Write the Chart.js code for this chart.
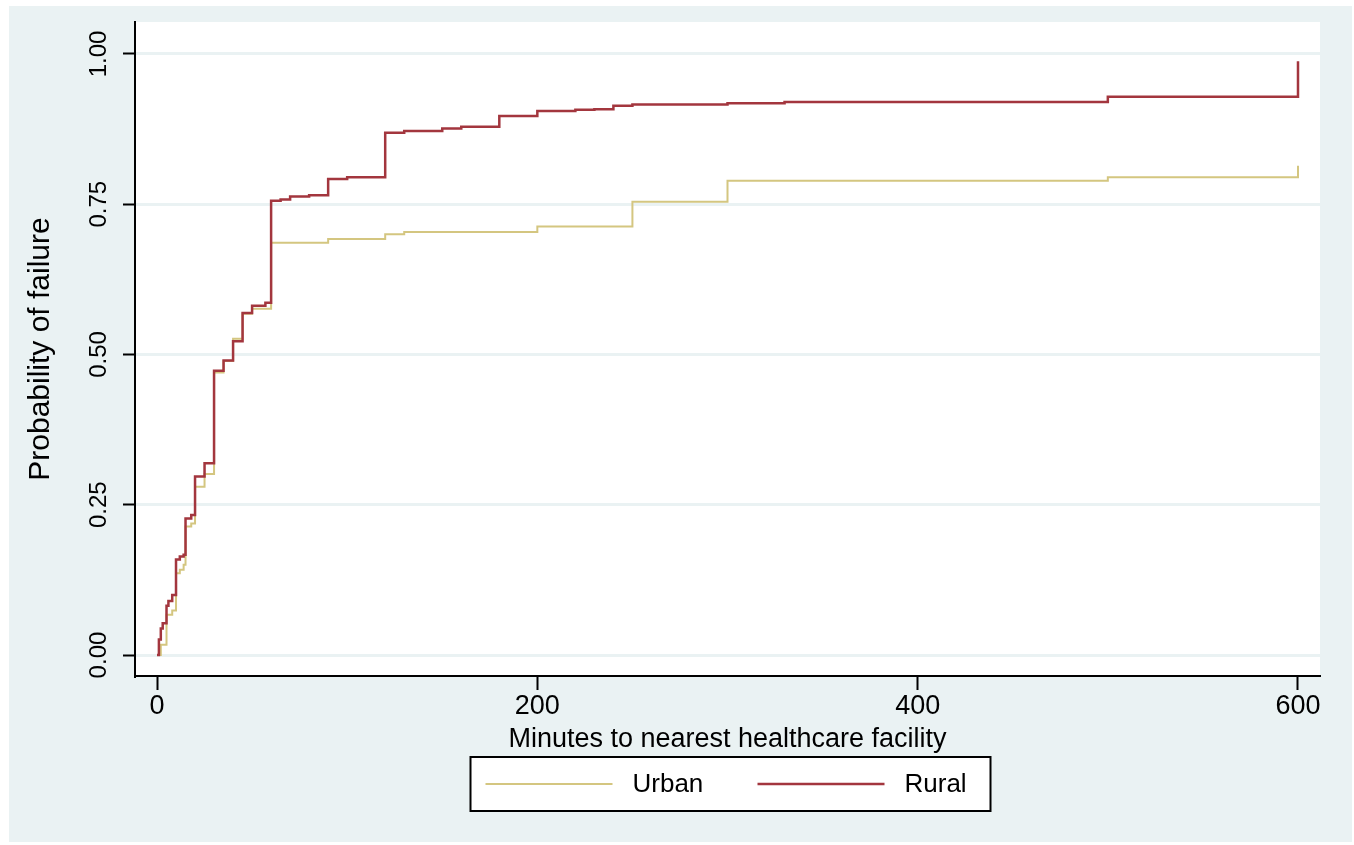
<!DOCTYPE html>
<html>
<head>
<meta charset="utf-8">
<script src="https://cdn.jsdelivr.net/npm/chart.js@4.4.0/dist/chart.umd.min.js"></script>
<style>
  html, body { margin: 0; padding: 0; background: #fff; }
  canvas { display: block; }
</style>
</head>
<body>
<canvas id="km" width="1354" height="845"></canvas>
<script>
// failure curves (minutes, cumulative probability)
const urbanMinutes = [0, 2, 5, 8, 10, 12, 14, 15, 18, 20, 25, 30, 35, 40, 45, 50, 60, 90, 120, 130, 200, 250, 300, 500, 600];
const urbanFailure = [0, 0.017, 0.067, 0.074, 0.136, 0.142, 0.150, 0.214, 0.219, 0.280, 0.301, 0.470, 0.489, 0.526, 0.568, 0.576, 0.686, 0.692, 0.700, 0.704, 0.713, 0.754, 0.789, 0.795, 0.814];

const ruralMinutes = [0, 1, 2, 3, 5, 6, 8, 10, 12, 14, 15, 18, 20, 25, 30, 35, 40, 45, 50, 57, 60, 65, 70, 80, 90, 100, 120, 130, 150, 160, 180, 200, 220, 230, 240, 250, 300, 330, 500, 600];
const ruralFailure = [0, 0.026, 0.044, 0.053, 0.082, 0.090, 0.100, 0.159, 0.164, 0.167, 0.227, 0.233, 0.297, 0.319, 0.473, 0.490, 0.522, 0.569, 0.581, 0.586, 0.756, 0.758, 0.763, 0.765, 0.792, 0.795, 0.869, 0.872, 0.876, 0.879, 0.897, 0.905, 0.907, 0.908, 0.914, 0.916, 0.918, 0.920, 0.929, 0.988];

const xTickValues = [0, 200, 400, 600];
const yTickValues = [0, 0.25, 0.5, 0.75, 1];

const sansFont = "'Liberation Sans', Arial, Helvetica, sans-serif";
const narrowFont = "'Liberation Sans Narrow', 'Arial Narrow', 'Liberation Sans', Arial, sans-serif";

function toPoints(xs, ys) {
  return xs.map((t, i) => ({ x: t, y: ys[i] }));
}

// grey frame, white plot region and the boxed legend at the bottom
const stataFrame = {
  id: 'stataFrame',
  beforeDraw(chart) {
    const c = chart.ctx, a = chart.chartArea;
    c.save();
    c.fillStyle = '#eaf2f3';
    c.fillRect(9, 6, 1343, 836);
    c.fillStyle = '#fff';
    c.fillRect(a.left, a.top, a.right - a.left, a.bottom - a.top);
    c.restore();
  },
  afterDraw(chart) {
    const c = chart.ctx, a = chart.chartArea;
    const cx = (a.left + a.right) / 2;
    const left = cx - 257, top = a.bottom + 81, w = 520, h = 54;
    c.save();
    c.fillStyle = '#fff';
    c.fillRect(left, top, w, h);
    c.strokeStyle = '#000';
    c.lineWidth = 2;
    c.strokeRect(left, top, w, h);
    c.font = '26px ' + sansFont;
    c.textBaseline = 'middle';
    c.textAlign = 'left';
    chart.data.datasets.forEach((ds, i) => {
      const lx = left + 15 + i * 272;
      const ly = top + h / 2;
      c.strokeStyle = ds.borderColor;
      c.lineWidth = ds.borderWidth;
      c.beginPath();
      c.moveTo(lx, ly);
      c.lineTo(lx + 127, ly);
      c.stroke();
      c.fillStyle = '#000';
      c.fillText(ds.label, lx + 147, ly + 1);
    });
    c.restore();
  }
};

const ctx = document.getElementById('km');

const myChart = new Chart(ctx, {
  type: 'line',
  data: {
    datasets: [{
      label: 'Urban',
      data: toPoints(urbanMinutes, urbanFailure),
      borderColor: '#d4c680',
      borderWidth: 2,
      stepped: 'before',
      pointRadius: 0,
      fill: false,
      order: 1
    }, {
      label: 'Rural',
      data: toPoints(ruralMinutes, ruralFailure),
      borderColor: '#a3363e',
      borderWidth: 2.5,
      stepped: 'before',
      pointRadius: 0,
      fill: false,
      order: 0
    }]
  },
  options: {
    responsive: false,
    animation: false,
    devicePixelRatio: 1,
    layout: { padding: { left: 0, right: 34, top: 22, bottom: 89 } },
    plugins: {
      legend: { display: false },
      tooltip: { enabled: false }
    },
    scales: {
      x: {
        type: 'linear',
        min: -11.57,
        max: 611.57,
        afterBuildTicks: (s) => { s.ticks = xTickValues.map(v => ({ value: v })); },
        afterFit: (s) => { s.height = 80; },
        grid: { drawOnChartArea: false, drawTicks: true, tickLength: 14, tickColor: '#000', tickWidth: 2 },
        border: { display: true, color: '#000', width: 2 },
        ticks: {
          autoSkip: false,
          maxRotation: 0,
          padding: 0,
          color: '#000',
          font: { family: sansFont, size: 27 },
          callback: (v) => String(v)
        },
        title: {
          display: true,
          text: 'Minutes to nearest healthcare facility',
          color: '#000',
          font: { family: sansFont, size: 27 },
          padding: { top: 0, bottom: 0 }
        }
      },
      y: {
        type: 'linear',
        min: -0.0349,
        max: 1.0532,
        afterBuildTicks: (s) => { s.ticks = yTickValues.map(v => ({ value: v })); },
        afterFit: (s) => { s.width = 135; },
        grid: { color: '#eaf2f3', lineWidth: 3, tickLength: 12, tickColor: '#000', tickWidth: 2 },
        border: { display: true, color: '#000', width: 2 },
        ticks: {
          autoSkip: false,
          minRotation: 90,
          maxRotation: 90,
          crossAlign: 'center',
          padding: 0,
          color: '#000',
          font: { family: narrowFont, size: 24 },
          callback: (v) => v.toFixed(2)
        },
        title: {
          display: true,
          text: 'Probability of failure',
          color: '#000',
          font: { family: narrowFont, size: 30 },
          padding: { top: 23, bottom: 0 }
        }
      }
    }
  },
  plugins: [stataFrame]
});
</script>
</body>
</html>
